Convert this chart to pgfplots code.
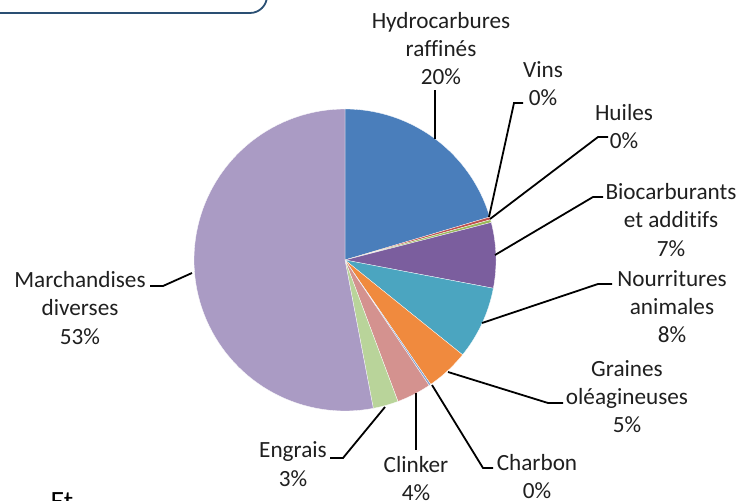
\documentclass[border=0pt]{standalone}
\usepackage{pgfplots}
\pgfplotsset{compat=1.18}
\usepackage{fontspec}
\setmainfont{Carlito}[Ligatures=NoCommon]
\definecolor{cHydro}{HTML}{4A7EBB}
\definecolor{cVins}{HTML}{C0504D}
\definecolor{cHuiles}{HTML}{9BBB59}
\definecolor{cBio}{HTML}{7B5E9E}
\definecolor{cNourr}{HTML}{4BA5C0}
\definecolor{cGraines}{HTML}{F08A3E}
\definecolor{cCharbon}{HTML}{7F9FCF}
\definecolor{cClinker}{HTML}{D4928F}
\definecolor{cEngrais}{HTML}{B9D49A}
\definecolor{cMarch}{HTML}{AA9BC4}
\definecolor{txt}{HTML}{1F1F1F}
\definecolor{boxc}{HTML}{2A4F73}
% pie geometry (axis units = bp)
\def\cx{345}\def\cy{241}\def\rr{151}
\gdef\curang{90}
\newcommand\pieslice[2]{%
  \pgfmathsetmacro\endang{\curang-3.6*#1}%
  \edef\next{\noexpand\addplot[fill=#2, draw=white, line width=0.3pt, domain=\endang:\curang, samples=80, variable=\noexpand\t]
    ({\cx+\rr*cos(\noexpand\t)},{\cy+\rr*sin(\noexpand\t)}) -- (axis cs:\cx,\cy) -- cycle;}%
  \next
  \global\let\curang\endang}
\begin{document}
\begin{tikzpicture}
\begin{axis}[
  width=751bp, height=501bp, scale only axis,
  xmin=0, xmax=751, ymin=0, ymax=501,
  hide axis, clip=false,
]
% slices (percent of total), clockwise from 12 o'clock
\pieslice{20.4}{cHydro}
\pieslice{0.3}{cVins}
\pieslice{0.3}{cHuiles}
\pieslice{7.0}{cBio}
\pieslice{7.8}{cNourr}
\pieslice{4.6}{cGraines}
\pieslice{0.2}{cCharbon}
\pieslice{3.7}{cClinker}
\pieslice{2.7}{cEngrais}
\pieslice{53.0}{cMarch}
% leader lines
\addplot[black, line width=1.8bp, mark=none] coordinates {(435,362) (435,411)};
\addplot[black, line width=1.8bp, mark=none] coordinates {(489,284) (514,398) (523,398)};
\addplot[black, line width=1.8bp, mark=none] coordinates {(490,282) (598,364) (608,364)};
\addplot[black, line width=1.8bp, mark=none] coordinates {(495,246) (593,304) (603,304)};
\addplot[black, line width=1.8bp, mark=none] coordinates {(482,178) (598,217) (612,217)};
\addplot[black, line width=1.8bp, mark=none] coordinates {(448,129) (548,98) (563,98)};
\addplot[black, line width=1.8bp, mark=none] coordinates {(432,116) (483,33) (493,33)};
\addplot[black, line width=1.8bp, mark=none] coordinates {(416,108) (416,51)};
\addplot[black, line width=1.8bp, mark=none] coordinates {(385,94) (343,43) (330,43)};
\addplot[black, line width=1.8bp, mark=none] coordinates {(192,228) (163,215) (150,215)};
% labels
\begin{scope}[every node/.style={align=center, text=txt, font=\fontsize{23.3}{28.5}\selectfont, inner sep=0pt}]
\node at (axis cs:441,452.5) {Hydrocarbures\\raffinés\\20\%};
\node at (axis cs:543,417.5) {Vins\\0\%};
\node at (axis cs:624,374.5) {Huiles\\0\%};
\node at (axis cs:671,281) {Biocarburants\\et additifs\\7\%};
\node at (axis cs:672,194.3) {Nourritures\\animales\\8\%};
\node at (axis cs:627,104.3) {Graines\\oléagineuses\\5\%};
\node at (axis cs:537,24.5) {Charbon\\0\%};
\node at (axis cs:416,22.5) {Clinker\\4\%};
\node at (axis cs:293,37) {Engrais\\3\%};
\node at (axis cs:80,193.3) {Marchandises\\diverses\\53\%};
\end{scope}
\node[anchor=north, inner sep=0pt, text=black, font=\fontsize{28}{32}\selectfont] at (axis cs:62,9) {Et};
\draw[boxc, line width=1.8bp, rounded corners=17bp] (axis cs:-30,540) rectangle (axis cs:267,488);
\end{axis}
\pgfresetboundingbox
\path[use as bounding box] (current axis.south west) rectangle (current axis.north east);
\end{tikzpicture}
\end{document}
